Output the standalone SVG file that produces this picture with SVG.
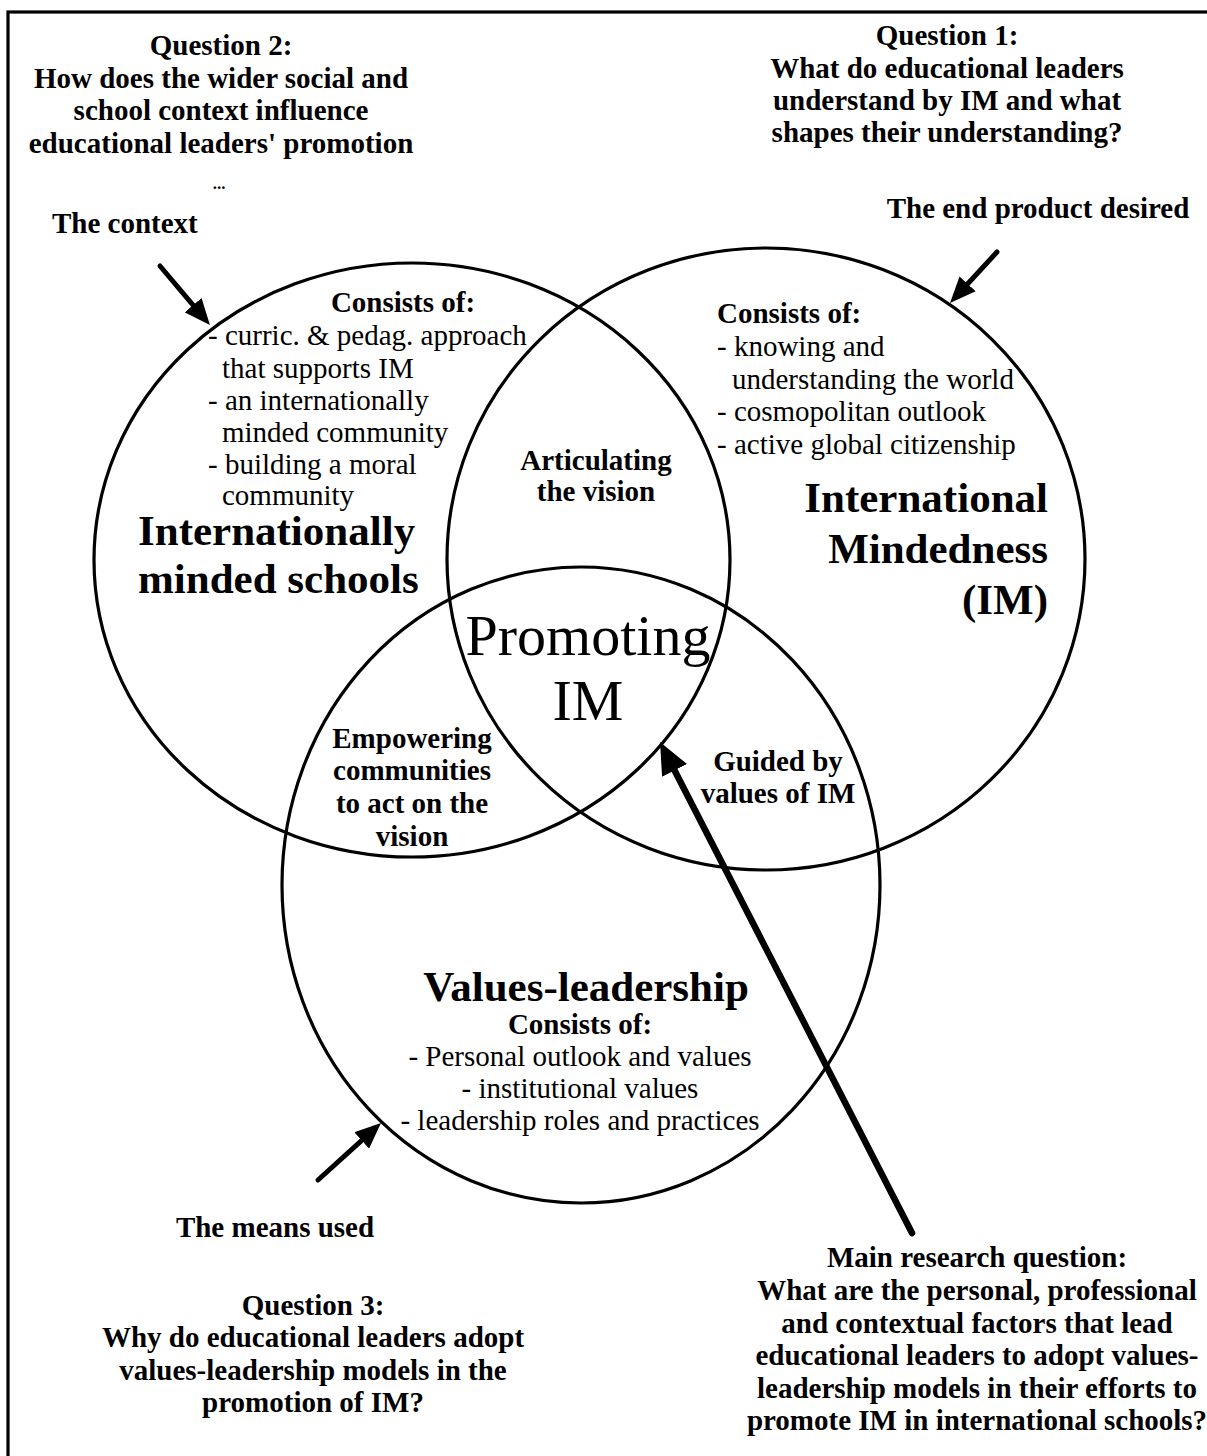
<svg xmlns="http://www.w3.org/2000/svg" width="1207" height="1456" viewBox="0 0 1207 1456">
  <style>
    text { font-family: "Liberation Serif", "Times New Roman", serif; fill: #000; }
    .b { font-weight: bold; font-size: 29px; }
    .r { font-size: 29px; }
    .big { font-weight: bold; font-size: 43px; }
    .prom { font-size: 58px; }
    .mid { text-anchor: middle; }
    .end { text-anchor: end; }
    .ring { fill: none; stroke: #000; stroke-width: 3.2; }
    .arrow { fill: none; stroke: #000; stroke-width: 5; stroke-linecap: round; }
    .arrow-main { fill: none; stroke: #000; stroke-width: 6.5; stroke-linecap: round; }
  </style>
  <defs>
    <marker id="head" markerUnits="userSpaceOnUse" viewBox="0 0 26 22" refX="12" refY="11" markerWidth="26" markerHeight="22" orient="auto">
      <path d="M0,0 L26,11 L0,22 Z" fill="#000"/>
    </marker>
    <marker id="head-main" markerUnits="userSpaceOnUse" viewBox="0 0 32 28" refX="14" refY="14" markerWidth="32" markerHeight="28" orient="auto">
      <path d="M0,0 L32,14 L0,28 Z" fill="#000"/>
    </marker>
  </defs>

  <rect width="1207" height="1456" fill="#fff"/>
  <!-- frame (open to the right and bottom) -->
  <rect x="8" y="12" width="1220" height="1470" fill="none" stroke="#000" stroke-width="3.2"/>

  <!-- research questions -->
  <g id="question2">
    <text class="b mid" x="221" y="55">Question 2:</text>
    <text class="b mid" x="221" y="88">How does the wider social and</text>
    <text class="b mid" x="221" y="120">school context influence</text>
    <text class="b mid" x="221" y="153">educational leaders' promotion</text>
    <text class="mid" x="219" y="189" font-size="17" font-weight="bold">...</text>
  </g>
  <g id="label-context">
    <text class="b" x="52" y="233">The context</text>
  </g>

  <g id="question1">
    <text class="b mid" x="947" y="45">Question 1:</text>
    <text class="b mid" x="947" y="78">What do educational leaders</text>
    <text class="b mid" x="947" y="110">understand by IM and what</text>
    <text class="b mid" x="947" y="142">shapes their understanding?</text>
  </g>
  <g id="label-end-product">
    <text class="b mid" x="1038" y="218">The end product desired</text>
  </g>

  <!-- circle: internationally minded schools -->
  <g id="schools">
    <ellipse class="ring" cx="412" cy="560" rx="318" ry="297"/>
    <text class="b mid" x="403" y="312">Consists of:</text>
    <text class="r" x="208" y="345">- curric. &amp; pedag. approach</text>
    <text class="r" x="222" y="378">that supports IM</text>
    <text class="r" x="208" y="410">- an internationally</text>
    <text class="r" x="222" y="442">minded community</text>
    <text class="r" x="208" y="474">- building a moral</text>
    <text class="r" x="222" y="505">community</text>
    <text class="big" x="138" y="545">Internationally</text>
    <text class="big" x="138" y="593">minded schools</text>
  </g>

  <!-- circle: international mindedness -->
  <g id="mindedness">
    <ellipse class="ring" cx="766" cy="559" rx="319" ry="311"/>
    <text class="b" x="717" y="323">Consists of:</text>
    <text class="r" x="717" y="356">- knowing and</text>
    <text class="r" x="732" y="389">understanding the world</text>
    <text class="r" x="717" y="421">- cosmopolitan outlook</text>
    <text class="r" x="717" y="454">- active global citizenship</text>
    <text class="big end" x="1048" y="512">International</text>
    <text class="big end" x="1048" y="563">Mindedness</text>
    <text class="big end" x="1048" y="614">(IM)</text>
  </g>

  <!-- circle: values-leadership -->
  <g id="values-leadership">
    <ellipse class="ring" cx="581" cy="885" rx="299" ry="318"/>
    <text class="big mid" x="586" y="1001">Values-leadership</text>
    <text class="b mid" x="580" y="1034">Consists of:</text>
    <text class="r mid" x="580" y="1066">- Personal outlook and values</text>
    <text class="r mid" x="580" y="1098">- institutional values</text>
    <text class="r mid" x="580" y="1130">- leadership roles and practices</text>
  </g>

  <!-- overlap labels -->
  <g id="articulating">
    <text class="b mid" x="596" y="470">Articulating</text>
    <text class="b mid" x="596" y="501">the vision</text>
  </g>
  <g id="empowering">
    <text class="b mid" x="412" y="748">Empowering</text>
    <text class="b mid" x="412" y="780">communities</text>
    <text class="b mid" x="412" y="813">to act on the</text>
    <text class="b mid" x="412" y="846">vision</text>
  </g>
  <g id="guided">
    <text class="b mid" x="778" y="771">Guided by</text>
    <text class="b mid" x="778" y="803">values of IM</text>
  </g>
  <g id="promoting">
    <text class="prom mid" x="588" y="655">Promoting</text>
    <text class="prom mid" x="588" y="720">IM</text>
  </g>

  <g id="label-means">
    <text class="b mid" x="275" y="1237">The means used</text>
  </g>
  <g id="question3">
    <text class="b mid" x="313" y="1315">Question 3:</text>
    <text class="b mid" x="313" y="1347">Why do educational leaders adopt</text>
    <text class="b mid" x="313" y="1380">values-leadership models in the</text>
    <text class="b mid" x="313" y="1412">promotion of IM?</text>
  </g>
  <g id="main-question">
    <text class="b mid" x="977" y="1267">Main research question:</text>
    <text class="b mid" x="977" y="1300">What are the personal, professional</text>
    <text class="b mid" x="977" y="1333">and contextual factors that lead</text>
    <text class="b mid" x="977" y="1365">educational leaders to adopt values-</text>
    <text class="b mid" x="977" y="1398">leadership models in their efforts to</text>
    <text class="b mid" x="977" y="1430">promote IM in international schools?</text>
  </g>

  <!-- connectors -->
  <g id="connectors">
    <path class="arrow" d="M160,266 L200.9,314.3" marker-end="url(#head)"/>
    <path class="arrow" d="M997,252 L959.5,292.7" marker-end="url(#head)"/>
    <path class="arrow" d="M318,1180 L370.6,1132.4" marker-end="url(#head)"/>
    <path class="arrow-main" d="M912,1233 L668.2,758" marker-end="url(#head-main)"/>
  </g>
</svg>
